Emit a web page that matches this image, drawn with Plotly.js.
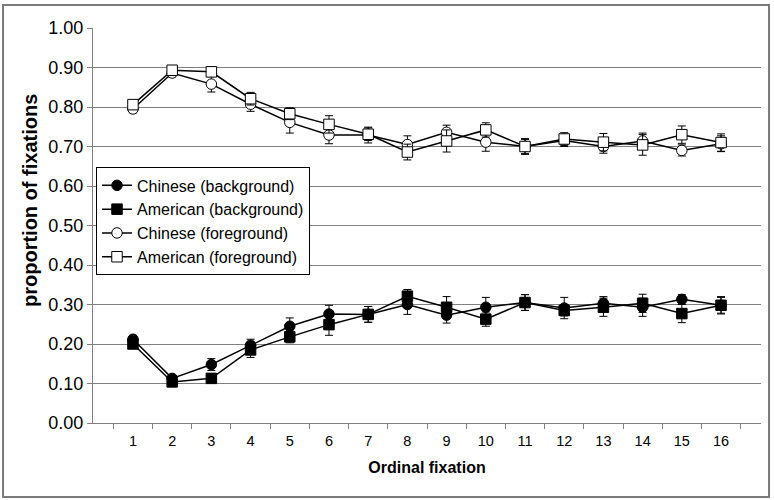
<!DOCTYPE html>
<html>
<head>
<meta charset="utf-8">
<script src="https://cdn.plot.ly/plotly-3.0.1.min.js"></script>
<style>html,body{margin:0;padding:0;background:#fff;}#chart{width:774px;height:500px;}</style>
</head>
<body>
<div id="chart"></div>
<script>
const categories = ['1','2','3','4','5','6','7','8','9','10','11','12','13','14','15','16'];
const seriesNames = ['Chinese (background)', 'American (background)', 'Chinese (foreground)', 'American (foreground)'];
const chineseBg  = [0.212, 0.113, 0.148, 0.197, 0.245, 0.276, 0.275, 0.300, 0.273, 0.293, 0.305, 0.291, 0.303, 0.293, 0.313, 0.298];
const americanBg = [0.200, 0.104, 0.113, 0.185, 0.218, 0.249, 0.275, 0.321, 0.293, 0.263, 0.305, 0.285, 0.293, 0.303, 0.277, 0.298];
const chineseFg  = [0.795, 0.886, 0.858, 0.807, 0.761, 0.729, 0.729, 0.705, 0.736, 0.711, 0.700, 0.715, 0.700, 0.714, 0.690, 0.707];
const americanFg = [0.806, 0.893, 0.889, 0.821, 0.783, 0.756, 0.731, 0.686, 0.714, 0.742, 0.700, 0.719, 0.711, 0.704, 0.730, 0.710];
const chineseBgErr  = [0.010, 0.008, 0.015, 0.015, 0.021, 0.022, 0.020, 0.025, 0.020, 0.025, 0.020, 0.027, 0.017, 0.023, 0.012, 0.022];
const americanBgErr = [0.010, 0.008, 0.010, 0.019, 0.015, 0.027, 0.020, 0.017, 0.027, 0.018, 0.020, 0.014, 0.023, 0.023, 0.023, 0.020];
const chineseFgErr  = [0.010, 0.010, 0.020, 0.018, 0.027, 0.022, 0.020, 0.022, 0.018, 0.023, 0.018, 0.015, 0.017, 0.020, 0.014, 0.020];
const americanFgErr = [0.010, 0.010, 0.012, 0.016, 0.015, 0.022, 0.016, 0.020, 0.028, 0.018, 0.020, 0.016, 0.022, 0.026, 0.022, 0.022];
const yTickVals = [0, 0.1, 0.2, 0.3, 0.4, 0.5, 0.6, 0.7, 0.8, 0.9, 1.0];
const xTitle = 'Ordinal fixation';
const yTitle = 'proportion of fixations';

const FONT = '"Liberation Sans", Arial, sans-serif';

function mk(name, y, err, symbol, fill) {
  return {
    type: 'scatter', mode: 'lines+markers', name: name,
    x: categories, y: y,
    line: {color: '#000', width: 1.5},
    marker: {symbol: symbol, size: 10.5, color: fill, line: {color: '#000', width: 1}},
    error_y: {type: 'data', array: err, visible: true, color: '#000', thickness: 1, width: 4},
    cliponaxis: false
  };
}

const data = [
  mk(seriesNames[0], chineseBg, chineseBgErr, 'circle', '#000'),
  mk(seriesNames[1], americanBg, americanBgErr, 'square', '#000'),
  mk(seriesNames[2], chineseFg, chineseFgErr, 'circle', '#fff'),
  mk(seriesNames[3], americanFg, americanFgErr, 'square', '#fff')
];

const layout = {
  width: 774, height: 500,
  margin: {l: 93, r: 13, t: 28, b: 77, pad: 0},
  paper_bgcolor: '#fff', plot_bgcolor: '#fff',
  font: {family: FONT, color: '#000', size: 15},
  showlegend: true,
  legend: {
    x: 0.0045, y: 0.647, xanchor: 'left', yanchor: 'top',
    bgcolor: '#fff', bordercolor: '#000', borderwidth: 1,
    font: {family: FONT, size: 16, color: '#000'},
    tracegroupgap: 0
  },
  xaxis: {
    type: 'category',
    tickson: 'boundaries',
    ticks: 'outside', ticklen: 5, tickcolor: '#808080', tickwidth: 1,
    ticklabelstandoff: 5,
    showline: true, linecolor: '#808080', linewidth: 1,
    showgrid: false, zeroline: false,
    tickfont: {family: FONT, size: 14.5, color: '#000'},
    title: {text: '<b>' + xTitle + '</b>', font: {family: FONT, size: 16, color: '#000'}, standoff: 13}
  },
  yaxis: {
    range: [0, 1],
    tickmode: 'array', tickvals: yTickVals,
    tickformat: '.2f',
    ticks: 'outside', ticklen: 5, tickcolor: '#808080', tickwidth: 1,
    showline: true, linecolor: '#808080', linewidth: 1,
    showgrid: true, gridcolor: '#808080', gridwidth: 1,
    zeroline: false,
    tickfont: {family: FONT, size: 18, color: '#000'}
  },
  annotations: [{
    text: '<b>' + yTitle + '</b>', textangle: -90,
    xref: 'paper', yref: 'paper', x: -0.0943, y: 0.562,
    xanchor: 'center', yanchor: 'middle', showarrow: false,
    font: {family: FONT, size: 20, color: '#000'}
  }],
  shapes: [{
    type: 'rect', xref: 'paper', yref: 'paper',
    x0: -0.1347, x1: 1.012, y0: -0.1873, y1: 1.0582,
    line: {color: '#7a7a7a', width: 2}, fillcolor: 'rgba(0,0,0,0)', layer: 'below'
  }]
};

Plotly.newPlot('chart', data, layout, {displayModeBar: false, staticPlot: true});
</script>
</body>
</html>
